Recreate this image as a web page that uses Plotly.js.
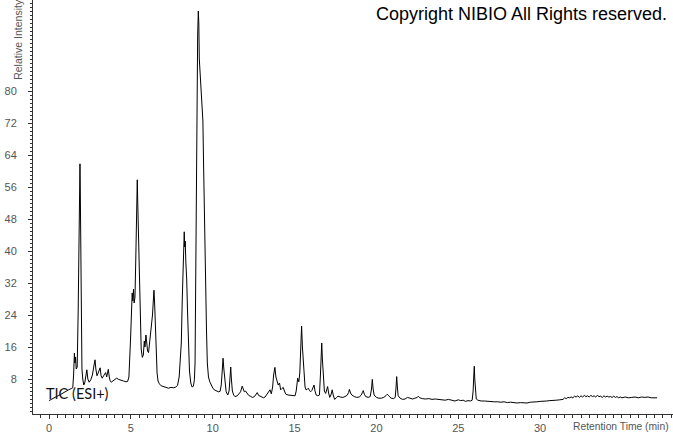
<!DOCTYPE html>
<html>
<head>
<meta charset="utf-8">
<script src="https://cdn.plot.ly/plotly-3.0.1.min.js"></script>
<style>html,body{margin:0;padding:0;background:#fff;}#chart{width:673px;height:433px;}</style>
</head>
<body>
<div id="chart"></div>
<script>
// Retention time (min)
var rt = [
  0.00, 0.15, 0.30, 0.45, 0.60, 0.75, 0.90, 1.05, 1.20, 1.35,
  1.45, 1.50, 1.55, 1.58, 1.62, 1.66, 1.72, 1.78, 1.83, 1.87,
  1.89, 1.91, 1.94, 1.97, 2.01, 2.06, 2.12, 2.18, 2.25, 2.31,
  2.37, 2.45, 2.55, 2.65, 2.75, 2.81, 2.86, 2.93, 3.00, 3.07,
  3.12, 3.18, 3.25, 3.33, 3.40, 3.46, 3.52, 3.58, 3.62, 3.68,
  3.73, 3.80, 3.90, 4.00, 4.13, 4.25, 4.40, 4.55, 4.70, 4.80,
  4.88, 4.93, 4.98, 5.04, 5.08, 5.12, 5.16, 5.20, 5.25, 5.30,
  5.34, 5.37, 5.39, 5.42, 5.46, 5.50, 5.54, 5.58, 5.63, 5.70,
  5.76, 5.82, 5.86, 5.92, 5.97, 6.02, 6.08, 6.14, 6.20, 6.27,
  6.32, 6.37, 6.41, 6.45, 6.50, 6.55, 6.60, 6.66, 6.74, 6.85,
  7.00, 7.15, 7.30, 7.45, 7.60, 7.75, 7.85, 7.95, 8.02, 8.08,
  8.14, 8.18, 8.22, 8.26, 8.29, 8.32, 8.36, 8.41, 8.46, 8.52,
  8.58, 8.66, 8.74, 8.82, 8.88, 8.92, 8.96, 9.00, 9.04, 9.08,
  9.12, 9.15, 9.18, 9.21, 9.25, 9.29, 9.33, 9.37, 9.40, 9.44,
  9.48, 9.52, 9.57, 9.62, 9.67, 9.74, 9.82, 9.92, 10.02, 10.14,
  10.25, 10.35, 10.45, 10.52, 10.58, 10.63, 10.68, 10.74, 10.82, 10.92,
  11.00, 11.06, 11.10, 11.14, 11.20, 11.28, 11.36, 11.50, 11.60, 11.70,
  11.80, 11.86, 11.93, 12.00, 12.10, 12.20, 12.30, 12.42, 12.55, 12.65,
  12.72, 12.80, 12.90, 13.00, 13.10, 13.20, 13.30, 13.40, 13.50, 13.58,
  13.66, 13.72, 13.80, 13.86, 13.92, 14.00, 14.08, 14.15, 14.22, 14.31,
  14.38, 14.47, 14.60, 14.75, 14.90, 15.03, 15.10, 15.19, 15.26, 15.32,
  15.38, 15.43, 15.48, 15.53, 15.58, 15.64, 15.70, 15.77, 15.84, 15.90,
  15.98, 16.05, 16.12, 16.19, 16.25, 16.32, 16.42, 16.52, 16.58, 16.63,
  16.66, 16.70, 16.75, 16.82, 16.90, 16.96, 17.02, 17.08, 17.15, 17.22,
  17.30, 17.36, 17.45, 17.55, 17.65, 17.80, 17.95, 18.08, 18.20, 18.30,
  18.35, 18.42, 18.50, 18.65, 18.80, 18.95, 19.08, 19.15, 19.20, 19.26,
  19.35, 19.50, 19.62, 19.70, 19.75, 19.80, 19.86, 20.00, 20.15, 20.30,
  20.45, 20.60, 20.67, 20.75, 20.90, 21.05, 21.15, 21.20, 21.24, 21.28,
  21.33, 21.45, 21.60, 21.75, 21.90, 22.05, 22.20, 22.35, 22.50, 22.56,
  22.65, 22.80, 23.00, 23.20, 23.40, 23.60, 23.80, 24.00, 24.20, 24.40,
  24.60, 24.80, 25.00, 25.15, 25.30, 25.45, 25.60, 25.75, 25.85, 25.91,
  25.95, 25.98, 26.01, 26.05, 26.10, 26.20, 26.40, 26.60, 26.80, 27.00,
  27.20, 27.40, 27.60, 27.80, 28.00, 28.20, 28.40, 28.60, 28.80, 29.00,
  29.20, 29.40, 29.60, 29.80, 30.00, 30.20, 30.40, 30.60, 30.80, 31.00,
  31.20, 31.40, 31.50, 31.60, 31.70, 31.80, 31.90, 32.00, 32.10, 32.20,
  32.30, 32.40, 32.50, 32.60, 32.70, 32.80, 32.90, 33.00, 33.10, 33.20,
  33.30, 33.40, 33.50, 33.60, 33.70, 33.80, 33.90, 34.00, 34.10, 34.20,
  34.30, 34.40, 34.50, 34.60, 34.70, 34.80, 34.90, 35.00, 35.20, 35.40,
  35.60, 35.80, 36.00, 36.20, 36.40, 36.60, 36.80, 37.00, 37.15
];
// Relative intensity (%)
var intensity = [
  2.6, 3.0, 3.2, 3.6, 3.9, 4.3, 4.6, 4.9, 5.3, 5.6,
  5.8, 9.0, 14.5, 12.0, 13.5, 10.5, 11.0, 25.0, 45.0, 58.0,
  61.8, 55.0, 38.0, 20.0, 10.5, 8.0, 6.5, 7.0, 9.5, 10.3,
  8.0, 7.2, 7.8, 9.0, 11.5, 12.8, 10.5, 8.8, 9.5, 10.5,
  10.8, 8.8, 8.2, 8.8, 9.3, 9.6, 8.5, 9.8, 10.4, 8.5,
  7.6, 7.2, 7.5, 7.9, 8.2, 7.9, 7.6, 7.5, 7.3, 7.4,
  8.5, 12.0, 18.0, 25.0, 29.5, 27.5, 30.5, 27.0, 28.5, 38.0,
  50.0, 56.0, 57.8, 52.0, 44.0, 38.0, 30.0, 21.0, 15.5, 13.4,
  14.0, 17.5, 16.0, 19.0, 17.3, 15.0, 14.6, 17.0, 18.2, 20.5,
  24.0, 27.5, 30.2, 27.0, 20.0, 13.0, 9.5, 7.5, 6.8, 6.3,
  6.1, 5.9, 5.7, 5.9, 5.8, 6.0, 6.4, 8.5, 12.0, 17.0,
  28.0, 36.0, 42.0, 44.8, 41.0, 42.5, 37.0, 33.0, 25.0, 15.0,
  10.0, 7.0, 6.0, 6.2, 7.8, 12.0, 35.0, 60.0, 80.0, 94.0,
  100.0, 97.0, 88.0, 86.0, 82.0, 80.5, 76.0, 73.6, 72.5, 62.0,
  50.0, 40.0, 30.0, 20.0, 12.0, 8.5, 7.3, 6.3, 5.6, 5.2,
  5.0, 4.8, 4.9, 6.5, 10.0, 13.2, 10.5, 7.0, 4.8, 4.0,
  5.0, 8.5, 11.0, 8.0, 5.0, 4.0, 3.6, 3.8, 4.2, 4.8,
  6.2, 5.4, 4.8, 5.0, 4.3, 3.9, 3.7, 3.4, 3.6, 4.2,
  4.6, 3.9, 3.7, 3.5, 3.3, 3.5, 4.2, 4.8, 5.3, 4.3,
  6.0, 9.0, 10.9, 8.5, 7.3, 6.5, 7.0, 5.3, 5.6, 5.9,
  5.0, 4.2, 4.0, 3.9, 3.8, 3.8, 5.0, 8.2, 7.3, 9.5,
  16.0, 21.2, 16.0, 11.0, 9.8, 6.0, 5.3, 5.4, 5.7, 5.2,
  4.8, 5.1, 5.8, 6.5, 5.0, 4.0, 3.8, 4.0, 9.0, 15.0,
  17.0, 13.0, 8.6, 5.0, 4.4, 5.5, 6.1, 4.5, 3.4, 4.0,
  5.3, 4.0, 2.9, 3.3, 3.7, 3.5, 3.4, 3.6, 3.9, 4.6,
  5.4, 4.5, 4.0, 3.6, 3.4, 3.5, 4.0, 4.7, 5.1, 4.2,
  3.6, 3.4, 3.6, 5.5, 7.9, 5.5, 4.0, 3.4, 3.2, 3.2,
  3.4, 3.9, 4.2, 3.8, 3.2, 3.1, 3.4, 6.0, 8.6, 6.0,
  3.8, 3.2, 2.9, 3.0, 3.4, 3.2, 3.0, 3.2, 3.4, 3.7,
  3.3, 3.1, 3.0, 3.1, 2.9, 3.0, 2.9, 2.8, 2.7, 2.9,
  2.7, 2.5, 2.8, 2.6, 2.7, 2.4, 2.6, 2.5, 2.7, 5.0,
  9.0, 11.2, 8.0, 5.2, 3.0, 2.7, 2.5, 2.5, 2.4, 2.4,
  2.3, 2.3, 2.2, 2.3, 2.1, 2.2, 2.1, 2.0, 2.1, 2.1,
  2.0, 2.2, 2.2, 2.3, 2.4, 2.4, 2.5, 2.6, 2.6, 2.7,
  2.8, 2.9, 3.3, 3.1, 3.4, 3.3, 3.5, 3.3, 3.7, 3.5,
  3.8, 3.4, 3.8, 3.5, 3.9, 3.6, 3.8, 3.5, 3.9, 3.6,
  3.8, 3.5, 3.9, 3.6, 3.7, 3.4, 3.8, 3.5, 3.7, 3.5,
  3.6, 3.4, 3.7, 3.4, 3.6, 3.3, 3.5, 3.3, 3.5, 3.3,
  3.4, 3.5, 3.3, 3.5, 3.4, 3.5, 3.3, 3.4, 3.3
];
var xTickVals = [0, 5, 10, 15, 20, 25, 30];
var xTickText = ["0", "5", "10", "15", "20", "25", "30"];
var yTickVals = [8, 16, 24, 32, 40, 48, 56, 64, 72, 80];
var yTickText = ["8", "16", "24", "32", "40", "48", "56", "64", "72", "80"];
var traceLabel = "TIC (ESI+)";
var xTitle = "Retention Time (min)";
var yTitle = "Relative Intensity";
var copyrightText = "Copyright NIBIO All Rights reserved.";

var trace = {
  x: rt, y: intensity, type: "scatter", mode: "lines",
  line: {color: "#000000", width: 1},
  hoverinfo: "skip"
};

var axisColor = "#333333";
var tickFont = {family: "Liberation Sans, Arial, sans-serif", size: 11, color: "#555555"};

var layout = {
  width: 673, height: 433,
  margin: {l: 33, r: 0, t: 0, b: 19, pad: 0},
  paper_bgcolor: "#ffffff", plot_bgcolor: "#ffffff",
  showlegend: false,
  xaxis: {
    range: [-0.98, 38.12], showgrid: false, zeroline: false,
    showline: true, linecolor: axisColor, linewidth: 1,
    tickmode: "array", tickvals: xTickVals, ticktext: xTickText,
    ticks: "outside", ticklen: 4, tickcolor: axisColor, tickwidth: 1,
    tickfont: tickFont,
    minor: {tickmode: "linear", tick0: 0, dtick: 0.5, ticks: "outside", ticklen: 3, tickcolor: axisColor, showgrid: false}
  },
  yaxis: {
    range: [-0.75, 102.75], showgrid: false, zeroline: false,
    showline: true, linecolor: axisColor, linewidth: 1,
    tickmode: "array", tickvals: yTickVals, ticktext: yTickText,
    ticks: "outside", ticklen: 4, tickcolor: axisColor, tickwidth: 1,
    tickfont: tickFont, ticklabelstandoff: 9,
    minor: {tickmode: "linear", tick0: 0, dtick: 1, ticks: "outside", ticklen: 2, tickcolor: axisColor, showgrid: false}
  },
  annotations: [
    {text: xTitle, xref: "paper", yref: "paper", x: 0.9195, y: -0.0314,
     xanchor: "center", yanchor: "middle", showarrow: false,
     font: {family: "Liberation Sans, Arial, sans-serif", size: 10.3, color: "#555555"}},
    {text: yTitle, xref: "paper", yref: "paper", x: -0.0227, y: 0.905,
     xanchor: "center", yanchor: "middle", showarrow: false, textangle: -90,
     font: {family: "Liberation Sans, Arial, sans-serif", size: 10.5, color: "#555555"}},
    {text: traceLabel, xref: "paper", yref: "paper", x: 0.0703, y: 0.0507,
     xanchor: "center", yanchor: "middle", showarrow: false,
     font: {family: "Lato, sans-serif", size: 14.5, color: "#111111"}},
    {text: copyrightText, xref: "paper", yref: "paper", x: 0.7625, y: 0.966,
     xanchor: "center", yanchor: "middle", showarrow: false,
     font: {family: "Liberation Sans, Arial, sans-serif", size: 18, color: "#000000"}}
  ]
};

Plotly.newPlot("chart", [trace], layout, {displayModeBar: false, staticPlot: true});
</script>
</body>
</html>
